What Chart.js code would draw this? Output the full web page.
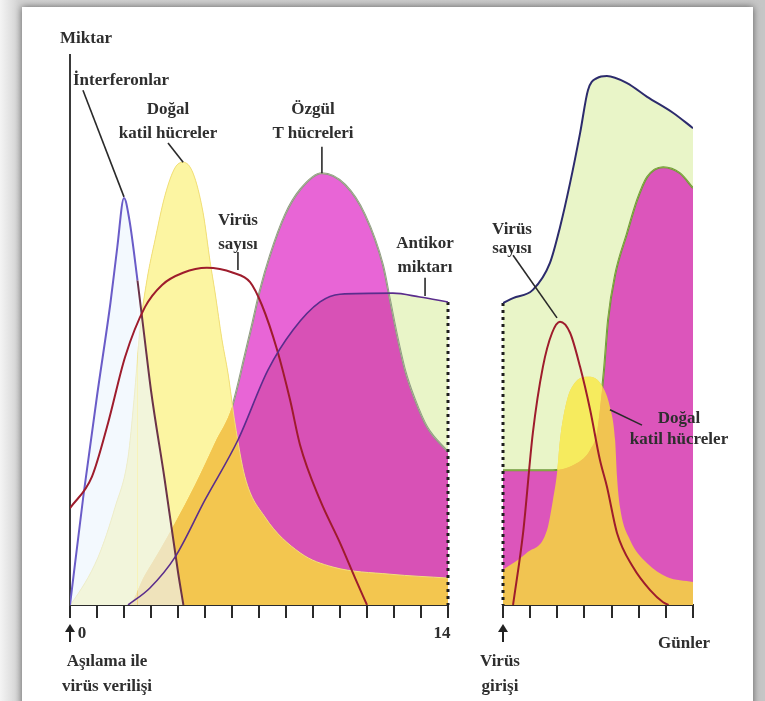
<!DOCTYPE html>
<html lang="tr">
<head>
<meta charset="UTF-8">
<title>Bağışıklık yanıtı</title>
<script src="https://cdn.jsdelivr.net/npm/chart.js"></script>
<style>
  body { margin: 0; width: 765px; height: 701px; overflow: hidden; position: relative;
         background: linear-gradient(to right, #f4f4f4 0, #d2d2d2 19px, #c6c6c6 100%); }
  #kart { position: absolute; left: 22px; top: 7px; width: 731px; height: 720px; background: #fff;
          box-shadow: 0 0 7px rgba(0,0,0,.55); }
  canvas { position: absolute; top: 0; }
  #solGrafik { left: 0; }
  #sagGrafik { left: 480px; }
  .lbl { position: absolute; font: bold 17px "Liberation Serif", serif; color: #2e2e2e;
         transform: translate(-50%, -50%); white-space: nowrap; line-height: 1; }
  .lbl.sol { transform: translateY(-50%); }
  .ok { position: absolute; width: 2px; height: 11px; background: #222; }
  .ok::before { content: ''; position: absolute; left: -4px; top: -7px;
                border-left: 5px solid transparent; border-right: 5px solid transparent; border-bottom: 8px solid #222; }
</style>
</head>
<body>
<div id="kart"></div>
<canvas id="solGrafik" width="470" height="701"></canvas>
<canvas id="sagGrafik" width="285" height="701"></canvas>

<div class="lbl sol" style="left:60px;top:37px">Miktar</div>
<div class="lbl sol" style="left:73px;top:79px">İnterferonlar</div>
<div class="lbl" style="left:168px;top:108px">Doğal</div>
<div class="lbl" style="left:168px;top:132px">katil hücreler</div>
<div class="lbl" style="left:313px;top:108px">Özgül</div>
<div class="lbl" style="left:313px;top:132px">T hücreleri</div>
<div class="lbl" style="left:238px;top:219px">Virüs</div>
<div class="lbl" style="left:238px;top:243px">sayısı</div>
<div class="lbl" style="left:425px;top:242px">Antikor</div>
<div class="lbl" style="left:425px;top:266px">miktarı</div>
<div class="lbl" style="left:82px;top:632px">0</div>
<div class="lbl" style="left:442px;top:632px">14</div>
<div class="lbl" style="left:107px;top:660px">Aşılama ile</div>
<div class="lbl" style="left:107px;top:685px">virüs verilişi</div>
<div class="lbl" style="left:512px;top:228px">Virüs</div>
<div class="lbl" style="left:512px;top:247px">sayısı</div>
<div class="lbl" style="left:679px;top:417px">Doğal</div>
<div class="lbl" style="left:679px;top:438px">katil hücreler</div>
<div class="lbl" style="left:684px;top:642px">Günler</div>
<div class="lbl" style="left:500px;top:660px">Virüs</div>
<div class="lbl" style="left:500px;top:685px">girişi</div>
<div class="ok" style="left:69px;top:631px"></div>
<div class="ok" style="left:502px;top:631px"></div>

<script>
// sol grafik: aşılama ile virüs verilişinden sonraki 14 gün
const interferonGun = [0, 0.5, 1, 1.5, 1.75, 2, 2.2, 2.5, 2.75, 3, 3.5, 4, 4.2];
const interferonMiktar = [0, 20, 38, 55, 65, 74, 70, 59, 49, 39, 23, 6, 0];

const nkGun = [0, 0.07, 1.04, 1.67, 2.15, 2.37, 2.59, 2.85, 3.15, 3.52, 3.89, 4.19, 4.56, 4.93, 5.19, 5.37, 5.63, 5.85, 6.11, 6.48, 7.22, 8.52, 9.74, 11.85, 14];
const nkMiktar = [0, 0.4, 8.7, 17.8, 26.9, 37.3, 50, 59.1, 66.4, 74.5, 79.5, 80.5, 78.5, 71.3, 62.4, 56.9, 48.2, 42.2, 33.1, 23.3, 16, 9.5, 6.9, 5.6, 4.9];

const tGun = [0, 2.15, 2.78, 3.33, 3.89, 4.63, 5.37, 6, 6.48, 6.74, 7.04, 7.41, 7.96, 8.52, 9.33, 10.19, 10.93, 11.59, 11.85, 12.11, 12.41, 12.78, 13.22, 14];
const tMiktar = [0, 0, 5.5, 10, 14.9, 21.8, 29.5, 36, 45.5, 50.9, 57.3, 63.6, 70.9, 75.5, 78.5, 76.4, 70.9, 61.8, 55.5, 49.1, 42.7, 37.3, 32.4, 27.8];

const antikorGun = [0, 2.15, 2.96, 3.89, 5, 6.22, 7.33, 8.26, 9.26, 10, 11.96, 12.96, 14];
const antikorMiktar = [0, 0, 3.1, 8.7, 19.1, 30, 42.7, 50, 55.1, 56.5, 56.7, 56, 55.1];

const virusGun = [0, 0.81, 1.41, 2.04, 2.78, 3.41, 4.19, 5.07, 6.04, 6.67, 7.11, 7.67, 8.15, 8.52, 9.26, 10, 10.56, 11];
const virusMiktar = [17.6, 23.3, 33.1, 45.1, 54.2, 58.2, 60.4, 61.3, 60.4, 58.7, 54.5, 46.4, 37.3, 29.1, 19.1, 11.3, 4.9, 0];

// sağ grafik: virüsün ikinci girişi
const sagAntikorGun = [0, 0.37, 1.1, 1.73, 2.1, 2.47, 2.84, 3.13, 3.46, 3.83, 4.57, 5.31, 6.26, 7];
const sagAntikorMiktar = [54.9, 55.8, 57.3, 62.2, 68.7, 76.7, 85.8, 93.6, 95.8, 96.2, 94.9, 92.4, 89.5, 86.7];

const sagTGun = [0, 0.99, 1.84, 2.73, 3.21, 3.46, 3.57, 3.72, 3.87, 4.13, 4.57, 4.94, 5.31, 5.9, 6.52, 7];
const sagTMiktar = [24.5, 24.5, 24.5, 25.8, 28.2, 31.3, 35.5, 42.7, 51.8, 60, 67.6, 73.6, 77.8, 79.6, 78.5, 75.8];

const sagNkGun = [0, 0.88, 1.62, 1.84, 1.99, 2.1, 2.36, 2.65, 3.1, 3.57, 3.94, 4.13, 4.2, 4.31, 4.68, 5.31, 6.04, 7];
const sagNkMiktar = [6.4, 9.5, 13.6, 19.1, 24, 30, 37.3, 40.4, 41.5, 40.4, 36, 30, 23.3, 17.8, 11.8, 7.6, 5.1, 4.2];

const sagVirusGun = [0.37, 0.74, 1.1, 1.47, 1.81, 2.1, 2.47, 2.84, 3.21, 3.57, 3.83, 4.2, 4.79, 5.42, 5.9, 6.1];
const sagVirusMiktar = [0, 13.1, 31.3, 43.3, 49.5, 51.5, 49.5, 43.3, 35.5, 26.4, 21.5, 13.1, 6.9, 2.7, 0.5, 0];

// etiketlerden eğrilere giden kısa çizgiler [gün, miktar, gün, miktar]
const solEtiketCizgileri = [[0.48, 93.6, 2, 74.2], [3.63, 84, 4.19, 80.5], [9.33, 83.3, 9.33, 78.5], [6.22, 64.2, 6.22, 60.9], [13.15, 59.5, 13.15, 56.2]];
const sagEtiketCizgileri = [[0.37, 63.6, 1.99, 52.2], [5.12, 32.7, 3.94, 35.5]];

function nokta(gun, miktar) {
    return gun.map((g, i) => ({ x: g, y: miktar[i] }));
}

function ds(veri, ek) {
    return Object.assign({
        data: veri, pointRadius: 0, pointHoverRadius: 0, borderWidth: 0,
        borderColor: 'rgba(0,0,0,0)', cubicInterpolationMode: 'monotone', fill: false
    }, ek);
}

function cizgiler(liste) {
    return liste.map(c => ds([{ x: c[0], y: c[1] }, { x: c[2], y: c[3] }],
        { borderColor: '#2a2a2a', borderWidth: 1.6, cubicInterpolationMode: 'default', tension: 0, order: 0, clip: false }));
}

function secenekler(maxGun, padding, eksenY) {
    return {
        responsive: false, animation: false, events: [],
        layout: { padding: padding },
        plugins: { legend: { display: false }, tooltip: { enabled: false } },
        scales: {
            x: {
                type: 'linear', min: 0, max: maxGun,
                ticks: { stepSize: 1, display: false },
                grid: { display: true, drawOnChartArea: false, drawTicks: true, tickLength: 13, color: '#2a2a2a', lineWidth: 2 },
                border: { display: true, color: '#2a2a2a', width: 2 },
                afterFit: s => { s.height = 12; }
            },
            y: {
                type: 'linear', min: 0, max: 100, display: eksenY,
                ticks: { display: false },
                grid: { display: false },
                border: { display: true, color: '#3a3a3a', width: 2 },
                afterFit: s => { s.width = 0; }
            }
        }
    };
}

const yesil = '#e9f5c8';
const kesik = { borderColor: '#1e1e1e', borderWidth: 3, borderDash: [3, 4], tension: 0, cubicInterpolationMode: 'default', order: 3, clip: false };

// sol grafik
new Chart(document.getElementById('solGrafik'), {
    type: 'line',
    data: {
        datasets: [
            ds(nokta(antikorGun, antikorMiktar), { fill: 'origin', backgroundColor: yesil, order: 10 }),
            ds(nokta(tGun, tMiktar), { fill: 'origin', backgroundColor: '#d851b6', order: 9 }),
            ds(nokta(tGun, tMiktar), { fill: { target: 0, above: '#e865d6', below: 'rgba(0,0,0,0)' }, order: 8 }),
            ds(nokta(tGun, tMiktar).slice(1), { borderColor: '#8e9a86', borderWidth: 2, order: 7 }),
            ds(nokta(nkGun, nkMiktar), { fill: 'origin', backgroundColor: '#f3c64f', order: 6 }),
            ds(nokta(nkGun, nkMiktar), { fill: { target: 1, above: '#fcf5a2', below: 'rgba(0,0,0,0)' }, borderColor: '#f1e07a', borderWidth: 1, order: 5 }),
            ds(nokta(interferonGun, interferonMiktar), {
                fill: 'origin', backgroundColor: 'rgba(236,246,253,0.62)', borderColor: '#6a5cc8', borderWidth: 2, order: 4,
                segment: { borderColor: c => c.p0.parsed.x >= 2.5 ? '#6b3348' : '#6a5cc8' }
            }),
            ds([{ x: 14, y: antikorMiktar[antikorMiktar.length - 1] }, { x: 14, y: 0 }], kesik),
            ds(nokta(virusGun, virusMiktar), { borderColor: '#9e1c2c', borderWidth: 2, order: 2 }),
            ds(nokta(antikorGun, antikorMiktar).slice(1), { borderColor: '#5a2d8c', borderWidth: 1.6, order: 1 })
        ].concat(cizgiler(solEtiketCizgileri))
    },
    options: secenekler(14, { left: 70, right: 22, top: 55, bottom: 84 }, true)
});

// sağ grafik
new Chart(document.getElementById('sagGrafik'), {
    type: 'line',
    data: {
        datasets: [
            ds(nokta(sagAntikorGun, sagAntikorMiktar), { fill: 'origin', backgroundColor: yesil, order: 10 }),
            ds(nokta(sagTGun, sagTMiktar), { fill: 'origin', backgroundColor: '#dc55bb', order: 9 }),
            ds(nokta(sagTGun, sagTMiktar), { borderColor: '#6f9a3c', borderWidth: 2, order: 8 }),
            ds(nokta(sagNkGun, sagNkMiktar), { fill: 'origin', backgroundColor: '#f1c451', order: 7 }),
            ds(nokta(sagNkGun, sagNkMiktar), { fill: { target: 1, above: 'rgba(247,242,96,0.85)', below: 'rgba(0,0,0,0)' }, order: 6 }),
            ds([{ x: 0, y: sagAntikorMiktar[0] }, { x: 0, y: 0 }], kesik),
            ds(nokta(sagVirusGun, sagVirusMiktar), { borderColor: '#9e1c2c', borderWidth: 2, order: 2 }),
            ds(nokta(sagAntikorGun, sagAntikorMiktar), { borderColor: '#2c2b6c', borderWidth: 2, order: 1 })
        ].concat(cizgiler(sagEtiketCizgileri))
    },
    options: secenekler(7, { left: 23, right: 72, top: 55, bottom: 84 }, false)
});
</script>
</body>
</html>
